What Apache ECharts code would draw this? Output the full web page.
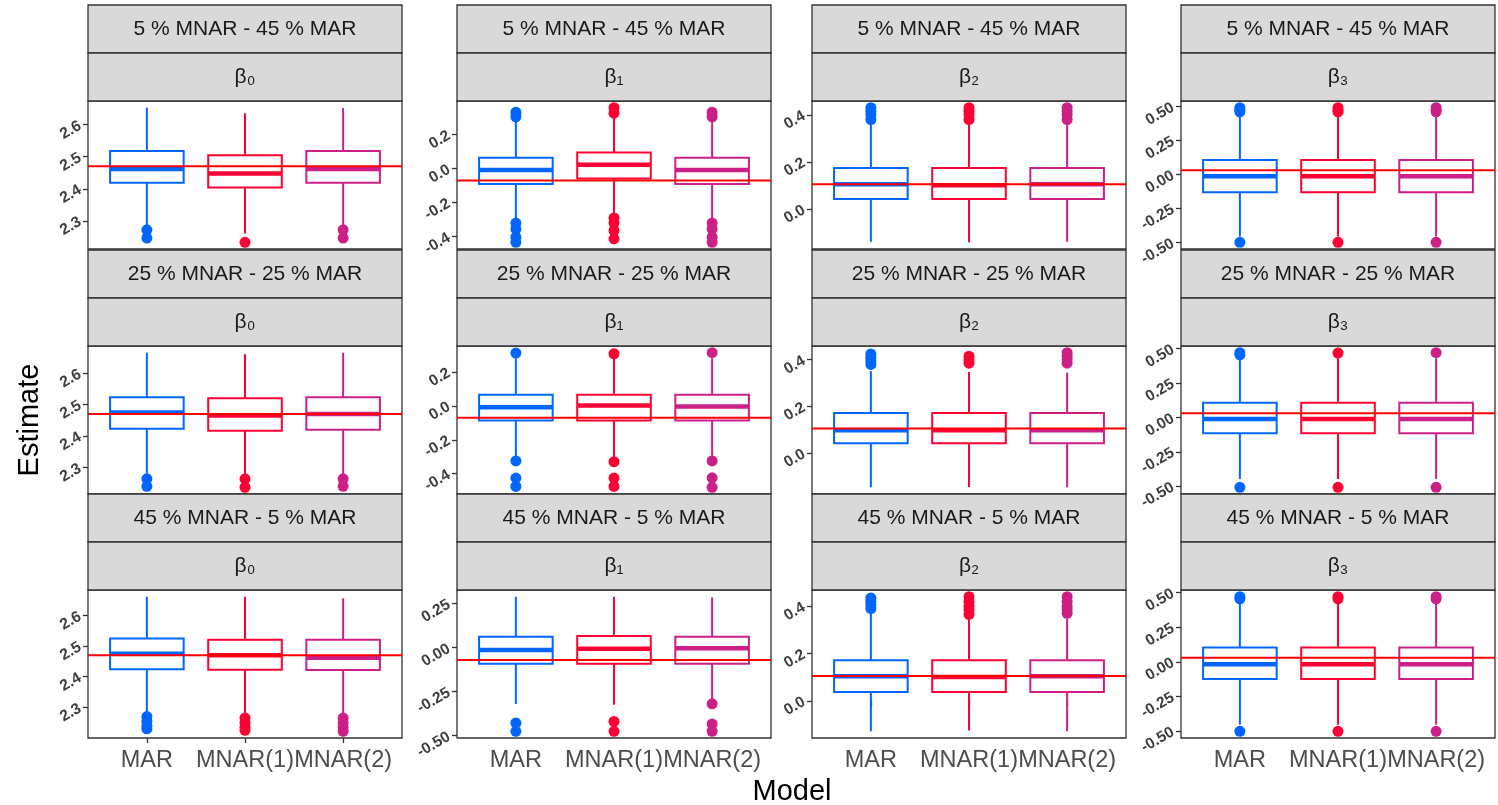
<!DOCTYPE html>
<html><head><meta charset="utf-8">
<script src="https://cdn.jsdelivr.net/npm/echarts@6/dist/echarts.min.js"></script>
<style>html,body{margin:0;padding:0;background:#fff}#c{width:1498px;height:805px}</style>
</head><body><div id="c"></div>
<script>
// ---------- DATA ----------
const scenarios = ['5 % MNAR - 45 % MAR', '25 % MNAR - 25 % MAR', '45 % MNAR - 5 % MAR'];
const params = ['β₀', 'β₁', 'β₂', 'β₃'];
const models = ['MAR', 'MNAR(1)', 'MNAR(2)'];
const truth = [2.47, -0.07, 0.105, 0.03];

// box stats per model: [lower whisker, Q1, median, Q3, upper whisker]
const stats_s5_b0 = [[2.285, 2.419, 2.462, 2.518, 2.653], [2.26, 2.404, 2.448, 2.505, 2.636], [2.285, 2.419, 2.462, 2.518, 2.652]];
const stats_s5_b1 = [[-0.306, -0.091, -0.008, 0.063, 0.29], [-0.277, -0.058, 0.022, 0.094, 0.31], [-0.306, -0.091, -0.008, 0.063, 0.29]];
const stats_s5_b2 = [[-0.14, 0.042, 0.105, 0.174, 0.362], [-0.142, 0.042, 0.100, 0.174, 0.362], [-0.14, 0.042, 0.105, 0.174, 0.362]];
const stats_s5_b3 = [[-0.456, -0.131, -0.013, 0.106, 0.44], [-0.456, -0.131, -0.013, 0.106, 0.44], [-0.456, -0.131, -0.013, 0.106, 0.44]];
const stats_s25_b0 = [[2.28, 2.423, 2.475, 2.523, 2.665], [2.28, 2.417, 2.465, 2.52, 2.66], [2.28, 2.42, 2.47, 2.523, 2.665]];
const stats_s25_b1 = [[-0.30, -0.086, -0.008, 0.066, 0.28], [-0.30, -0.086, 0.002, 0.066, 0.28], [-0.30, -0.086, -0.004, 0.066, 0.28]];
const stats_s25_b2 = [[-0.147, 0.042, 0.098, 0.171, 0.351], [-0.146, 0.042, 0.098, 0.171, 0.347], [-0.147, 0.042, 0.098, 0.171, 0.345]];
const stats_s25_b3 = [[-0.447, -0.116, -0.012, 0.107, 0.43], [-0.447, -0.116, -0.012, 0.107, 0.43], [-0.447, -0.116, -0.012, 0.107, 0.43]];
const stats_s45_b0 = [[2.284, 2.424, 2.475, 2.525, 2.661], [2.28, 2.423, 2.47, 2.521, 2.661], [2.28, 2.422, 2.462, 2.521, 2.656]];
const stats_s45_b1 = [[-0.32, -0.092, -0.013, 0.062, 0.289], [-0.324, -0.092, -0.007, 0.066, 0.289], [-0.296, -0.092, -0.004, 0.062, 0.285]];
const stats_s45_b2 = [[-0.129, 0.0375, 0.104, 0.171, 0.368], [-0.126, 0.0375, 0.101, 0.171, 0.347], [-0.129, 0.0375, 0.104, 0.171, 0.347]];
const stats_s45_b3 = [[-0.454, -0.124, -0.017, 0.103, 0.43], [-0.454, -0.124, -0.017, 0.103, 0.43], [-0.454, -0.124, -0.017, 0.103, 0.43]];

// outliers per model
const out_s5_b0 = [[2.272, 2.246], [2.233], [2.272, 2.246]];
const out_s5_b1 = [[0.331, 0.304, -0.32, -0.355, -0.403, -0.433], [0.357, 0.325, -0.29, -0.32, -0.365, -0.413], [0.331, 0.304, -0.32, -0.355, -0.403, -0.433]];
const out_s5_b2 = [[0.43, 0.415, 0.40, 0.38], [0.43, 0.415, 0.40, 0.38], [0.43, 0.415, 0.40, 0.38]];
const out_s5_b3 = [[0.49, 0.475, 0.46, -0.498], [0.49, 0.475, 0.46, -0.498], [0.49, 0.475, 0.46, -0.498]];
const out_s25_b0 = [[2.264, 2.24], [2.264, 2.237], [2.264, 2.24]];
const out_s25_b1 = [[0.311, -0.325, -0.426, -0.475], [0.307, -0.329, -0.426, -0.475], [0.313, -0.325, -0.424, -0.48]];
const out_s25_b2 = [[0.425, 0.41, 0.395, 0.38], [0.415, 0.40, 0.385], [0.43, 0.415, 0.40, 0.385]];
const out_s25_b3 = [[0.47, 0.455, -0.508], [0.468, -0.508], [0.47, -0.508]];
const out_s45_b0 = [[2.27, 2.255, 2.24, 2.23], [2.265, 2.25, 2.235, 2.225], [2.265, 2.25, 2.235, 2.222]];
const out_s45_b1 = [[-0.428, -0.475], [-0.419, -0.475], [-0.319, -0.434, -0.475]];
const out_s45_b2 = [[0.435, 0.42, 0.405, 0.39], [0.44, 0.42, 0.40, 0.385, 0.365], [0.44, 0.42, 0.40, 0.385, 0.37]];
const out_s45_b3 = [[0.47, 0.455, -0.502], [0.47, 0.455, -0.502], [0.47, 0.455, -0.502]];

// y tick values and labels
const ticks_b0 = [2.3, 2.4, 2.5, 2.6];
const labels_b0 = ['2.3', '2.4', '2.5', '2.6'];
const ticks_b1 = [-0.4, -0.2, 0.0, 0.2];
const labels_b1 = ['-0.4', '-0.2', '0.0', '0.2'];
const ticks_b1_s45 = [-0.5, -0.25, 0.0, 0.25];
const labels_b1_s45 = ['-0.50', '-0.25', '0.00', '0.25'];
const ticks_b2 = [0.0, 0.2, 0.4];
const labels_b2 = ['0.0', '0.2', '0.4'];
const ticks_b3 = [-0.5, -0.25, 0.0, 0.25, 0.5];
const labels_b3 = ['-0.50', '-0.25', '0.00', '0.25', '0.50'];

// ---------- ASSEMBLY ----------
const statsGrid = [
  [stats_s5_b0, stats_s5_b1, stats_s5_b2, stats_s5_b3],
  [stats_s25_b0, stats_s25_b1, stats_s25_b2, stats_s25_b3],
  [stats_s45_b0, stats_s45_b1, stats_s45_b2, stats_s45_b3]
];
const outGrid = [
  [out_s5_b0, out_s5_b1, out_s5_b2, out_s5_b3],
  [out_s25_b0, out_s25_b1, out_s25_b2, out_s25_b3],
  [out_s45_b0, out_s45_b1, out_s45_b2, out_s45_b3]
];
const tickGrid = [
  [[ticks_b0, labels_b0], [ticks_b1, labels_b1], [ticks_b2, labels_b2], [ticks_b3, labels_b3]],
  [[ticks_b0, labels_b0], [ticks_b1, labels_b1], [ticks_b2, labels_b2], [ticks_b3, labels_b3]],
  [[ticks_b0, labels_b0], [ticks_b1_s45, labels_b1_s45], [ticks_b2, labels_b2], [ticks_b3, labels_b3]]
];

const colors = ['#0066ff', '#ff0033', '#cc1f88'];
const FONT = '"Liberation Sans", Arial, sans-serif';
const colLeft = [88, 457, 812, 1181];
const rowTop = [101, 346, 590];
const PW = 314, PH = 148, SH = 48;

const grids = [], xAxes = [], yAxes = [], series = [], graphics = [];

for (let r = 0; r < 3; r++) {
  for (let c = 0; c < 4; c++) {
    const gi = r * 4 + c;
    const st = statsGrid[r][c], ou = outGrid[r][c];
    let lo = Infinity, hi = -Infinity;
    st.forEach(s => { lo = Math.min(lo, s[0]); hi = Math.max(hi, s[4]); });
    ou.forEach(a => a.forEach(v => { lo = Math.min(lo, v); hi = Math.max(hi, v); }));
    const pad = (hi - lo) * 0.05;
    const [tv, tl] = tickGrid[r][c];

    grids.push({ left: colLeft[c], top: rowTop[r], width: PW, height: PH, show: true,
      borderColor: '#333', borderWidth: 1.3, backgroundColor: '#fff', containLabel: false, outerBoundsMode: 'none' });

    const bottom = r === 2;
    xAxes.push({ gridIndex: gi, type: 'value', min: 0.4, max: 3.6,
      axisLine: { show: false }, splitLine: { show: false },
      axisTick: { show: bottom, length: 5, lineStyle: { color: '#333', width: 1.3 }, customValues: [1, 2, 3] },
      axisLabel: { show: bottom, customValues: [1, 2, 3], formatter: v => models[Math.round(v) - 1] || '',
        fontSize: 23.5, color: '#4d4d4d', fontFamily: FONT, margin: 11 } });

    yAxes.push({ gridIndex: gi, type: 'value', min: lo - pad, max: hi + pad,
      axisLine: { show: false }, splitLine: { show: false },
      axisTick: { show: true, length: 5, lineStyle: { color: '#333', width: 1.3 }, customValues: tv },
      axisLabel: { customValues: tv, rotate: 30, fontSize: 15.5, fontWeight: 'bold', color: '#3d3d3d', fontFamily: FONT, margin: 8,
        formatter: v => { const k = tv.findIndex(t => Math.abs(t - v) < 1e-9); return k >= 0 ? tl[k] : ''; } } });

    // boxes
    series.push({ type: 'custom', xAxisIndex: gi, yAxisIndex: gi, z: 2, silent: true, animation: false,
      data: st.map((s, m) => [m + 1, s[0], s[1], s[2], s[3], s[4], m]),
      encode: { x: 0, y: [1, 2, 3, 4, 5] },
      renderItem: (p, api) => {
        const x = api.value(0);
        const col = colors[api.value(6)];
        const hw = api.size([0.75, 0])[0] / 2;
        const pLo = api.coord([x, api.value(1)]), pQ1 = api.coord([x, api.value(2)]),
              pMd = api.coord([x, api.value(3)]), pQ3 = api.coord([x, api.value(4)]), pHi = api.coord([x, api.value(5)]);
        const cx = pMd[0];
        const lw = 2;
        return { type: 'group', children: [
          { type: 'line', shape: { x1: cx, y1: pQ3[1], x2: cx, y2: pHi[1] }, style: { stroke: col, lineWidth: lw } },
          { type: 'line', shape: { x1: cx, y1: pQ1[1], x2: cx, y2: pLo[1] }, style: { stroke: col, lineWidth: lw } },
          { type: 'rect', shape: { x: cx - hw, y: pQ3[1], width: 2 * hw, height: pQ1[1] - pQ3[1] }, style: { fill: '#fff', stroke: col, lineWidth: lw } },
          { type: 'line', shape: { x1: cx - hw, y1: pMd[1], x2: cx + hw, y2: pMd[1] }, style: { stroke: col, lineWidth: 4.5 } }
        ] };
      } });

    // outliers
    ou.forEach((arr, m) => {
      series.push({ type: 'scatter', xAxisIndex: gi, yAxisIndex: gi, z: 3, silent: true, animation: false,
        symbolSize: 11, itemStyle: { color: colors[m], opacity: 1 },
        data: arr.map(v => [m + 1, v]) });
    });

    // truth line
    series.push({ type: 'line', xAxisIndex: gi, yAxisIndex: gi, z: 4, silent: true, animation: false,
      showSymbol: false, symbol: 'none', lineStyle: { color: '#ff0000', width: 2 },
      data: [[0.4, truth[c]], [3.6, truth[c]]] });

    // strips
    const top1 = rowTop[r] - 2 * SH, top2 = rowTop[r] - SH;
    graphics.push({ type: 'rect', shape: { x: colLeft[c], y: top1, width: PW, height: SH }, style: { fill: '#d9d9d9', stroke: '#333', lineWidth: 1.3 }, silent: true });
    graphics.push({ type: 'rect', shape: { x: colLeft[c], y: top2, width: PW, height: SH }, style: { fill: '#d9d9d9', stroke: '#333', lineWidth: 1.3 }, silent: true });
    graphics.push({ type: 'text', x: colLeft[c] + PW / 2, y: top1 + SH / 2, silent: true,
      style: { text: scenarios[r], fontSize: 21, fill: '#1a1a1a', fontFamily: FONT, align: 'center', verticalAlign: 'middle' } });
    graphics.push({ type: 'text', x: colLeft[c] + PW / 2, y: top2 + SH / 2, silent: true,
      style: { text: params[c], fontSize: 21, fill: '#1a1a1a', fontFamily: FONT, align: 'center', verticalAlign: 'middle' } });
  }
}

graphics.push({ type: 'text', x: 30, y: 420, rotation: Math.PI / 2, silent: true,
  style: { text: 'Estimate', fontSize: 29, fill: '#000', fontFamily: FONT, align: 'center', verticalAlign: 'middle' } });
graphics.push({ type: 'text', x: 792, y: 792, silent: true,
  style: { text: 'Model', fontSize: 29, fill: '#000', fontFamily: FONT, align: 'center', verticalAlign: 'middle' } });

const chart = echarts.init(document.getElementById('c'), null, { renderer: 'canvas' });
chart.setOption({ animation: false, backgroundColor: '#fff', grid: grids, xAxis: xAxes, yAxis: yAxes, series, graphic: graphics });
</script>
</body></html>
